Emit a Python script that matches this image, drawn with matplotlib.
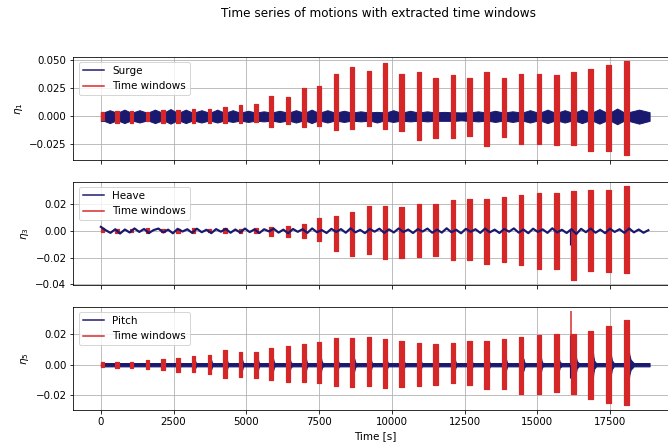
import numpy as np
import matplotlib
matplotlib.use("Agg")
import matplotlib.pyplot as plt
from matplotlib.lines import Line2D

# ---------------------------------------------------------------- data
# extracted time windows [s]
win_start = [0, 500, 1005, 1535, 2070, 2595, 3120, 3670, 4205, 4730, 5270,
             5790, 6360, 6915, 7430, 8000, 8570, 9140, 9690, 10260, 10855,
             11425, 12020, 12590, 13175, 13770, 14365, 14970, 15565, 16150,
             16745, 17350, 17965]
win_len = [110, 115, 115, 115, 120, 120, 120, 125, 125, 125, 130, 130, 130,
           135, 135, 135, 140, 140, 140, 145, 145, 145, 150, 150, 150, 155,
           155, 155, 160, 160, 160, 165, 165]
t_end = 18853

# response extremes inside each window
surge_win_hi = [0.003, 0.0045, 0.0045, 0.0035, 0.0055, 0.0055, 0.006, 0.006,
                0.0075, 0.0095, 0.0105, 0.0177, 0.0168, 0.025, 0.0265, 0.0377,
                0.0433, 0.0398, 0.047, 0.0377, 0.039, 0.034, 0.0368, 0.034,
                0.039, 0.034, 0.0377, 0.0377, 0.0368, 0.039, 0.0418, 0.0457,
                0.0486]
surge_win_lo = [-0.004, -0.006, -0.006, -0.005, -0.006, -0.006, -0.006,
                -0.006, -0.006, -0.0065, -0.0055, -0.0102, -0.0073, -0.0102,
                -0.0088, -0.0126, -0.0117, -0.009, -0.0117, -0.0132, -0.022,
                -0.020, -0.020, -0.018, -0.0274, -0.019, -0.025, -0.025,
                -0.026, -0.0265, -0.031, -0.0318, -0.0353]

heave_win_hi = [0.0025, 0.0015, 0.0015, 0.0018, 0.0015, 0.0015, 0.0018,
                0.0015, 0.0018, 0.0015, 0.0018, 0.0027, 0.0037, 0.005, 0.0094,
                0.011, 0.0144, 0.0185, 0.0185, 0.0178, 0.0203, 0.0198, 0.0232,
                0.0242, 0.0235, 0.0252, 0.0267, 0.0284, 0.0284, 0.0301,
                0.0309, 0.0309, 0.0333]
heave_win_lo = [-0.0005, -0.0015, -0.0012, -0.0015, -0.0012, -0.0015,
                -0.0015, -0.0012, -0.0015, -0.0018, -0.0015, -0.004, -0.0044,
                -0.0054, -0.0074, -0.0148, -0.0185, -0.0173, -0.021, -0.0202,
                -0.0193, -0.0185, -0.0217, -0.0217, -0.0247, -0.0234,
                -0.0259, -0.0284, -0.0284, -0.037, -0.030, -0.031, -0.0313]

pitch_win_hi = [0.0015, 0.002, 0.0017, 0.0028, 0.0036, 0.0047, 0.0055,
                0.0064, 0.0096, 0.0085, 0.008, 0.011, 0.0124, 0.0135, 0.0145,
                0.0177, 0.0177, 0.018, 0.017, 0.0156, 0.0141, 0.0135, 0.0141,
                0.0156, 0.0156, 0.0167, 0.0183, 0.0192, 0.0199, 0.020, 0.022,
                0.0252, 0.029]
pitch_win_lo = [-0.0015, -0.002, -0.002, -0.0031, -0.0036, -0.0047, -0.005,
                -0.006, -0.0085, -0.008, -0.0085, -0.0097, -0.011, -0.011,
                -0.012, -0.0137, -0.0144, -0.0137, -0.015, -0.0146, -0.014,
                -0.0133, -0.0122, -0.0133, -0.0158, -0.016, -0.0192, -0.0192,
                -0.0175, -0.0192, -0.0222, -0.025, -0.0265]
pitch_peak = (16150, 0.0348)   # leading transient of window 30

# surge envelope between windows (gap middle / close to the windows)
surge_mid_hi = [0.0050, 0.0055, 0.0050, 0.0055, 0.0060, 0.0055, 0.0050,
                0.0055, 0.0050, 0.0045, 0.0040, 0.0045, 0.0050, 0.0055,
                0.0050, 0.0045, 0.0040, 0.0035, 0.0050, 0.0045, 0.0040,
                0.0035, 0.0030, 0.0040, 0.0045, 0.0040, 0.0050, 0.0055,
                0.0050, 0.0055, 0.0060, 0.0065, 0.0055]
surge_mid_lo = [-0.0065, -0.0065, -0.0060, -0.0065, -0.0070, -0.0065,
                -0.0060, -0.0060, -0.0055, -0.0055, -0.0050, -0.0055,
                -0.0060, -0.0065, -0.0060, -0.0055, -0.0050, -0.0060,
                -0.0055, -0.0050, -0.0050, -0.0045, -0.0040, -0.0050,
                -0.0055, -0.0055, -0.0060, -0.0065, -0.0060, -0.0065,
                -0.0070, -0.0075, -0.0070]
surge_edge = (0.0032, -0.0045)

# pitch envelope: ringing just after each window, then calm level
pitch_tail = [0.001, 0.001, 0.0012, 0.0015, 0.0018, 0.002, 0.0025, 0.003,
              0.0035, 0.0035, 0.0035, 0.004, 0.0045, 0.004, 0.0045, 0.004,
              0.004, 0.0035, 0.003, 0.003, 0.0025, 0.0025, 0.003, 0.003,
              0.0035, 0.0035, 0.004, 0.0045, 0.006, 0.008, 0.009, 0.0095,
              0.011]
pitch_calm = 0.0011

# slow heave drift (sampled every 165 s)
heave = [0.0030, 0.0005, -0.0015, 0.0012, -0.0020, 0.0010, -0.0012, 0.0018,
         -0.0008, 0.0014, -0.0016, 0.0006, 0.0017, -0.0012, 0.0009, -0.0018,
         0.0015, -0.0005, 0.0012, -0.0015, 0.0016, -0.0010, 0.0008, -0.0017,
         0.0013, -0.0006, 0.0015, -0.0014, 0.0010, -0.0012, 0.0017, -0.0009,
         0.0011, -0.0016, 0.0012, -0.0004, 0.0016, -0.0013, 0.0009, -0.0018,
         0.0014, -0.0007, 0.0012, -0.0015, 0.0018, -0.0010, 0.0006, -0.0016,
         0.0015, -0.0008, 0.0013, -0.0014, 0.0019, -0.0011, 0.0007, -0.0017,
         0.0014, -0.0006, 0.0016, -0.0015, 0.0011, -0.0012, 0.0018, -0.0009,
         0.0010, -0.0016, 0.0013, -0.0005, 0.0017, -0.0014, 0.0009, -0.0013,
         0.0019, -0.0010, 0.0008, -0.0018, 0.0015, -0.0007, 0.0012, -0.0015,
         0.0017, -0.0011, 0.0009, -0.0016, 0.0014, -0.0006, 0.0018, -0.0013,
         0.0010, -0.0017, 0.0016, -0.0008, 0.0011, -0.0015, 0.0019, -0.0012,
         0.0008, -0.0016, 0.0013, -0.0024, 0.0015, -0.0010, 0.0017, -0.0014,
         0.0009, -0.0017, 0.0016, -0.0008, 0.0012, -0.0015, 0.0018, -0.0011,
         0.0010, -0.0014, 0.0005]
heave_dt = 165

# isolated transient at t = 16106 s
glitch_t = 16106
heave_glitch = (-0.0104, 0.001)
pitch_glitch = (-0.009, 0.0192)

labels = ["Surge", "Heave", "Pitch"]
ylabels = [r"$\eta_1$", r"$\eta_3$", r"$\eta_5$"]

NAVY = "#191970"
RED = "#d62728"

# ---------------------------------------------------------------- helpers
ws = np.array(win_start, float)
we = ws + np.array(win_len, float)
nxt = np.append(ws[1:], t_end)


def band_surge():
    t, hi, lo = [], [], []
    for i in range(len(ws)):
        t += [ws[i] + 0.5 * win_len[i], we[i], 0.5 * (we[i] + nxt[i]), nxt[i]]
        hi += [surge_edge[0], surge_edge[0], surge_mid_hi[i], surge_edge[0]]
        lo += [surge_edge[1], surge_edge[1], surge_mid_lo[i], surge_edge[1]]
    t[0] = 0.0
    return np.array(t), np.array(hi), np.array(lo)


def band_pitch():
    # ringing after each window dies out over roughly a quarter of the gap
    t, amp = [0.0], [pitch_calm]
    for i in range(len(ws)):
        gap = nxt[i] - we[i]
        a = pitch_tail[i]
        t += [we[i], we[i] + 0.04 * gap, we[i] + 0.1 * gap,
              we[i] + 0.25 * gap, nxt[i]]
        amp += [a, max(0.6 * a, pitch_calm), max(0.3 * a, pitch_calm),
                pitch_calm, pitch_calm]
    t, amp = np.array(t), np.array(amp)
    return t, amp, -amp


# ---------------------------------------------------------------- figure
fig = plt.figure(figsize=(668 / 72, 443 / 72), dpi=72)
bottoms = [0.6388, 0.3567, 0.0745]
axes = [fig.add_axes([0.1099, b, 0.9036, 0.2332]) for b in bottoms]
for ax in axes[1:]:
    ax.sharex(axes[0])

win_hi = [surge_win_hi, heave_win_hi, pitch_win_hi]
win_lo = [surge_win_lo, heave_win_lo, pitch_win_lo]

for k, ax in enumerate(axes):
    ax.set_axisbelow(True)
    ax.grid(True, color="#b0b0b0", lw=0.8)

    if k == 0:
        t, hi, lo = band_surge()
        ax.fill_between(t, lo, hi, color=NAVY, lw=1.0, edgecolor=NAVY)
    elif k == 1:
        th = np.arange(len(heave)) * heave_dt
        ax.plot(th, heave, color=NAVY, lw=2.2)
        ax.vlines(glitch_t, *heave_glitch, color=NAVY, lw=1.2)
    else:
        t, hi, lo = band_pitch()
        ax.fill_between(t, lo, hi, color=NAVY, lw=1.0, edgecolor=NAVY)
        ax.vlines(glitch_t, *pitch_glitch, color=NAVY, lw=1.2)

    for i in range(len(ws)):
        ax.fill_between([ws[i], we[i]], [win_lo[k][i]] * 2, [win_hi[k][i]] * 2,
                        color=RED, lw=1.2, edgecolor=RED)
    if k == 2:
        ax.vlines(pitch_peak[0] + 10, 0, pitch_peak[1], color=RED, lw=1.5)

    ax.set_ylabel(ylabels[k], fontsize=10.5)
    handles = [Line2D([], [], color=NAVY, lw=1.5, label=labels[k]),
               Line2D([], [], color=RED, lw=1.5, label="Time windows")]
    ax.legend(handles=handles, loc="upper left", fontsize=10.4)
    ax.tick_params(labelsize=10.2)
    if k < 2:
        ax.tick_params(labelbottom=False)

axes[0].set_yticks([-0.025, 0.0, 0.025, 0.05])
axes[1].set_yticks([-0.04, -0.02, 0.0, 0.02])
axes[2].set_yticks([-0.02, 0.0, 0.02])
axes[2].set_xticks([0, 2500, 5000, 7500, 10000, 12500, 15000, 17500])
axes[2].set_xlabel("Time [s]", fontsize=10.4)
axes[0].margins(x=0.05)

fig.suptitle("Time series of motions with extracted time windows",
             fontsize=12, x=0.567, y=0.985)

fig.savefig("out.png", dpi=72)
